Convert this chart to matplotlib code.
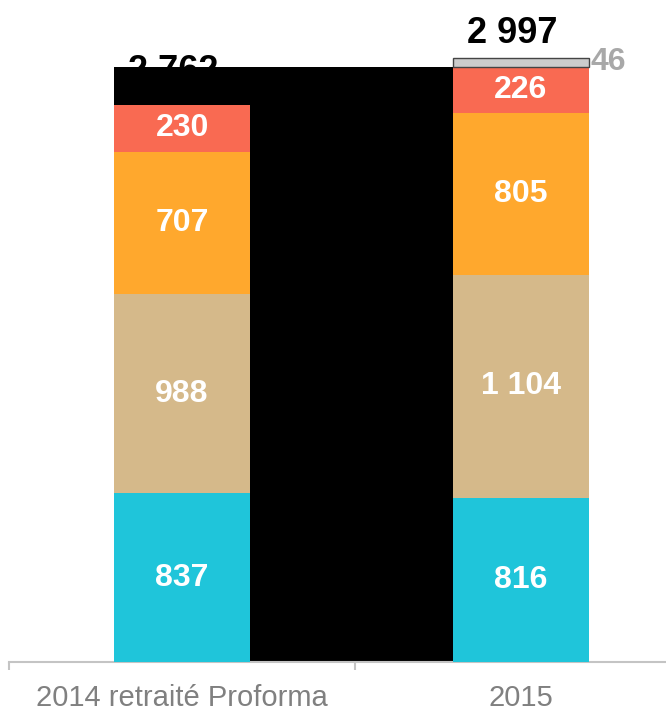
import matplotlib.pyplot as plt
from matplotlib.patches import Rectangle

plt.rcParams['font.family'] = ['Liberation Sans', 'DejaVu Sans']

kategorije = ["2014 retraité Proforma", "2015"]
ukupno_oznake = ["2 762", "2 997"]

# segmenti odozdo prema gore
segmenti = ["teal", "tan", "narancasta", "crvena", "siva"]
vrijednosti_2014 = [837, 988, 707, 230, 0]
vrijednosti_2015 = [816, 1104, 805, 226, 46]
oznake_2014 = ["837", "988", "707", "230", ""]
oznake_2015 = ["816", "1 104", "805", "226", "46"]

boje = {
    "teal": "#1fc5da",
    "tan": "#d5b98a",
    "narancasta": "#ffa82d",
    "crvena": "#f96a52",
    "siva": "#cccccc",
}

sirina = 0.4

fig = plt.figure(figsize=(6.66, 7.12), dpi=100)
ax = fig.add_axes([9.3 / 666, 50 / 712, 1 - 9.3 / 666, 1 - 50 / 712])
ax.set_xlim(-0.51, 1.428)
ax.set_ylim(0, 3284)

stupci = [vrijednosti_2014, vrijednosti_2015]
oznake = [oznake_2014, oznake_2015]

# crni pravokutnik iza stupaca
vrh_pozadine = sum(vrijednosti_2015[:4])
ax.add_patch(Rectangle((0 - sirina / 2, 0), 1 + sirina, vrh_pozadine,
                       facecolor="black", edgecolor="none", zorder=2))

for i, vrijednosti in enumerate(stupci):
    dno = 0
    for seg, v, oz in zip(segmenti, vrijednosti, oznake[i]):
        if v == 0:
            continue
        if seg == "siva":
            ax.bar(i, v, sirina, bottom=dno, color=boje[seg],
                   edgecolor="#444444", linewidth=1, zorder=3)
            ax.text(i + sirina / 2 + 0.005, dno + v / 2, oz, ha="left",
                    va="center", fontsize=23, fontweight="bold",
                    color="#a8a8a8", zorder=4)
        else:
            ax.bar(i, v, sirina, bottom=dno, color=boje[seg],
                   edgecolor="none", zorder=3)
            ax.text(i, dno + v / 2, oz, ha="center", va="center",
                    fontsize=23, fontweight="bold", color="white", zorder=4)
        dno += v

# ukupne vrijednosti iznad stupaca
razmak = [12, 5]
for i, vrijednosti in enumerate(stupci):
    ax.annotate(ukupno_oznake[i], (i - 0.025, sum(vrijednosti)),
                xytext=(0, razmak[i]), textcoords="offset points",
                ha="center", va="bottom", fontsize=26, fontweight="bold",
                color="black", zorder=1)

for s in ["top", "right", "left"]:
    ax.spines[s].set_visible(False)
ax.spines["bottom"].set_color("#c4c4c4")
ax.spines["bottom"].set_linewidth(1.5)
ax.set_yticks([])

ax.set_xticks([0, 1])
ax.set_xticklabels(kategorije)
ax.tick_params(axis="x", which="major", length=0, pad=16,
               labelsize=21, labelcolor="#808080")
ax.set_xticks([-0.51, 0.509], minor=True)
ax.tick_params(axis="x", which="minor", length=6, width=1.5,
               color="#c4c4c4")

fig.savefig("out.png", dpi=100)
